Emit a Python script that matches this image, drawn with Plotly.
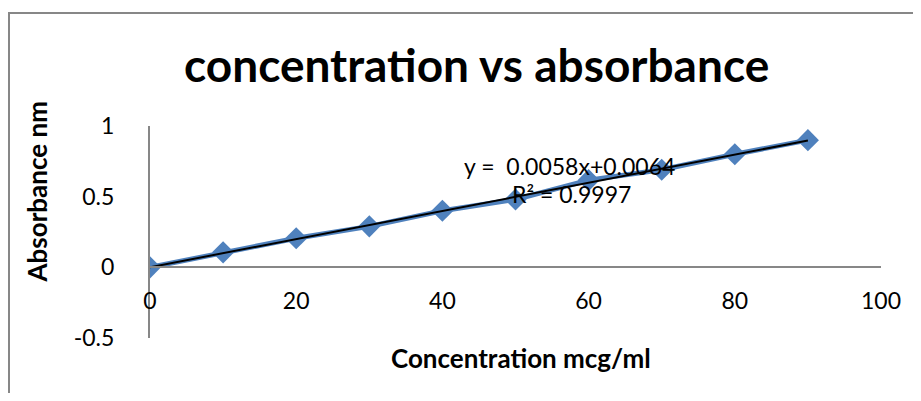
import numpy as np
import plotly.graph_objects as go

# Data
concentration = [0, 10, 20, 30, 40, 50, 60, 70, 80, 90]
absorbance = [0.0, 0.106, 0.206, 0.29, 0.40, 0.48, 0.617, 0.69, 0.80, 0.90]
x_ticks = [0, 20, 40, 60, 80, 100]
y_ticks = [-0.5, 0, 0.5, 1]
y_tick_labels = ["-0.5", "0", "0.5", "1"]
title_text = "concentration vs absorbance"
x_title = "Concentration mcg/ml"
y_title = "Absorbance nm"
eq_text = "y =  0.0058x+0.0064"
r2_text = "R² = 0.9997"

# Linear trendline through the data
slope, intercept = np.polyfit(concentration, absorbance, 1)
trend_x = [min(concentration), max(concentration)]
trend_y = [slope * v + intercept for v in trend_x]

FONT = "Lato"
BLUE = "#4F81BD"
GRAY = "#878787"

fig = go.Figure()
fig.add_trace(go.Scatter(
    x=concentration, y=absorbance, mode="lines+markers",
    line=dict(color=BLUE, width=5),
    marker=dict(symbol="diamond", size=17, color=BLUE),
    showlegend=False, hoverinfo="skip"))
fig.add_trace(go.Scatter(
    x=trend_x, y=trend_y, mode="lines",
    line=dict(color="black", width=2),
    showlegend=False, hoverinfo="skip"))

fig.update_layout(
    width=905, height=385,
    margin=dict(l=142, r=32, t=118, b=55),
    paper_bgcolor="white", plot_bgcolor="white",
    font=dict(family=FONT, color="black", size=23),
    xaxis=dict(range=[0, 100], tickvals=x_ticks, showgrid=False, zeroline=False,
               showline=True, linecolor=GRAY, linewidth=2,
               anchor="free", position=1/3, ticks="", ticklabelstandoff=13,
               tickfont=dict(size=23, family=FONT)),
    yaxis=dict(range=[-0.5, 1], tickvals=y_ticks, ticktext=y_tick_labels,
               showgrid=False, zeroline=False,
               showline=True, linecolor=GRAY, linewidth=2, domain=[0, 1],
               ticks="", ticklabelstandoff=29,
               tickfont=dict(size=23, family=FONT)),
    shapes=[dict(type="rect", xref="paper", yref="paper",
                 x0=-0.1929, x1=1.08, y0=-0.40, y1=1.533,
                 line=dict(color=GRAY, width=2), fillcolor="rgba(0,0,0,0)",
                 layer="below")],
    annotations=[
        dict(text="<b>" + title_text + "</b>", xref="paper", yref="paper",
             x=0.446, y=1.292, xanchor="center", yanchor="middle",
             showarrow=False, font=dict(size=46, family=FONT)),
        dict(text="<b>" + x_title + "</b>", xref="paper", yref="paper",
             x=0.5075, y=-0.0943, xanchor="center", yanchor="middle",
             showarrow=False, font=dict(size=26, family=FONT)),
        dict(text="<b>" + y_title + "</b>", xref="paper", yref="paper",
             x=-0.1546, y=0.691, xanchor="center", yanchor="middle",
             textangle=-90, showarrow=False, font=dict(size=26, family=FONT)),
        dict(text=eq_text, xref="x", yref="y", x=57.45, y=0.716,
             xanchor="center", yanchor="middle", showarrow=False,
             font=dict(size=23, family=FONT)),
        dict(text=r2_text, xref="x", yref="y", x=57.6, y=0.518,
             xanchor="center", yanchor="middle", showarrow=False,
             font=dict(size=23, family=FONT)),
    ],
)

fig.write_html("out.html")
